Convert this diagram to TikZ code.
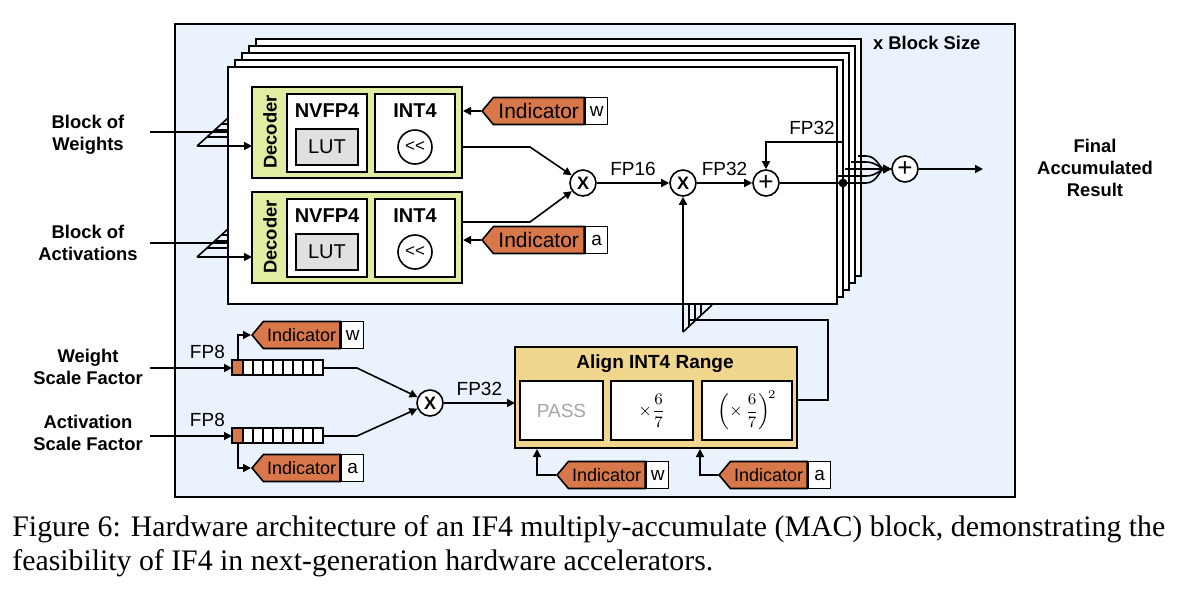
\documentclass[tikz,border=0pt]{standalone}
\usepackage{fontspec}
\setmainfont{Liberation Serif}
\newfontfamily\lsans{Liberation Sans}
\usetikzlibrary{shapes.symbols,arrows.meta}
\definecolor{bgblue}{HTML}{EAF2FD}
\definecolor{decfill}{HTML}{E2ECA2}
\definecolor{alfill}{HTML}{F1D68E}
\definecolor{orng}{HTML}{D8784A}
\definecolor{lutg}{HTML}{E0E0E0}
\begin{document}
\begin{tikzpicture}[x=0.5pt,y=-0.5pt,
  every node/.style={font=\lsans\fontsize{8.5}{10}\selectfont},
  ln/.style={line width=0.8pt},
  arr/.style={ln,-{Triangle[length=4pt,width=4pt]}},
  frame/.style={draw,line width=1pt,fill=white},
  box/.style={draw,line width=1.2pt,fill=white,inner sep=0},
  op/.style={draw,circle,line width=0.8pt,fill=white,minimum size=13pt,inner sep=0,font=\lsans\bfseries\fontsize{9}{10}\selectfont},
  ind/.style={signal,signal to=west,signal pointer angle=100,draw,line width=0.8pt,fill=orng,minimum height=13.5pt,minimum width=44pt,inner sep=1pt,anchor=west,font=\lsans\fontsize{9}{10}\selectfont},
  bigind/.style={ind,minimum width=51pt,font=\lsans\fontsize{10.5}{11}\selectfont},
  letter/.style={draw,line width=0.8pt,fill=white,minimum height=13.5pt,minimum width=11pt,inner sep=0,anchor=west,font=\lsans\fontsize{9.5}{10}\selectfont},
  lbl/.style={font=\lsans\bfseries\fontsize{9.2}{11}\selectfont,align=center}]
\useasboundingbox (0,0) rectangle (1200,596);
% outer
\draw[line width=1pt,fill=bgblue] (175,24) rectangle (1015,497);
% stacked frames
\foreach \i in {4,3,2,1,0}{
  \draw[frame] ({228+7*\i},{67-7*\i}) rectangle ({837+6*\i},{304-7*\i});
}
\node[lbl,anchor=west] (bs) at (866,43) {x Block Size};
% decoders
\foreach \dy/\nm/\lt/\iy/\oy in {0/w/w/111/147,105/a/a/240/222}{
  \draw[line width=1.2pt,fill=decfill] (252,{87+\dy}) rectangle (462,{178+\dy});
  \node[lbl] (dec\nm) at (270,{132+\dy}) {\rotatebox{90}{Decoder}};
  \draw[box] (287,{94+\dy}) rectangle (367,{172+\dy});
  \draw[box] (375,{94+\dy}) rectangle (455,{172+\dy});
  \node[lbl,font=\lsans\bfseries\fontsize{10}{10}\selectfont] (nv\nm) at (327,{111+\dy}) {NVFP4};
  \node[lbl,font=\lsans\bfseries\fontsize{10}{10}\selectfont] (in\nm) at (415,{111+\dy}) {INT4};
  \node[draw,line width=1pt,fill=lutg,minimum width=31pt,minimum height=18pt,font=\lsans\fontsize{10}{10}\selectfont] (lut\nm) at (327,{147+\dy}) {LUT};
  \node[draw,circle,line width=0.8pt,minimum size=17pt,inner sep=0] (sh\nm) at (415,{147+\dy}) {<<};
  \coordinate (out\nm) at (462,\oy);
  \node[bigind] (ind\nm) at (481,\iy) {Indicator};
  \node[letter] (l\nm) at (ind\nm.east) {\lt};
  \draw[arr] (ind\nm.west) -- (463,\iy);
}
% left inputs
\node[lbl] (bw) at (88,135) {Block of\\Weights};
\node[lbl] (ba) at (88,243) {Block of\\Activations};
\foreach \y/\nm in {0/w,111/a}{
  \draw[ln] (150,{132+\y}) -- (228,{132+\y});
  \draw[ln] (197,{146+\y}) -- (228,{118+\y});
  \foreach \yy in {124,130,137}{\draw[ln] ({197+(146-\yy)*31/28},{\yy+\y}) -- (228,{\yy+\y});}
  \draw[arr] (197,{146+\y}) -- (252,{146+\y});
}
% multiply chain
\node[op] (m1) at (583,183) {X};
\draw[arr] (outw) -- (530,147) -- (m1);
\draw[arr] (outa) -- (530,222) -- (m1);
\node[op] (m2) at (683,183) {X};
\draw[arr] (m1) -- node[above,font=\lsans\fontsize{9.5}{10}\selectfont] {FP16} (m2);
\node[op,font=\lsans\fontsize{13}{13}\selectfont] (p1) at (766,183) {+};
\draw[arr] (m2) -- node[above,font=\lsans\fontsize{9.5}{10}\selectfont] {FP32} (p1);
\coordinate (dot) at (843,183);
\fill (dot) circle (2.2pt);
\draw[ln] (p1) -- (dot);
\draw[arr] (dot) -- (843,142) -- (766,142) -- (p1);
\node[font=\lsans\fontsize{9.5}{10}\selectfont] at (812,128) {FP32};
\node[op,font=\lsans\fontsize{13}{13}\selectfont] (pf) at (905,169) {+};
\foreach \y/\x in {156/858,162/851,169/845,176/838}{
  \draw[arr] (\x,\y) -- (866,\y) to[out=0,in=180] (pf.west);
}
\draw[arr] (dot) -- (866,183) to[out=0,in=180] (pf.west);
\coordinate (fend) at (983,169);
\draw[arr] (pf) -- (fend);
\node[lbl] (fr) at (1095,168) {Final\\Accumulated\\Result};
% scale factors
\node[lbl] (wsf) at (88,367) {Weight\\Scale Factor};
\node[lbl] (asf) at (88,433) {Activation\\Scale Factor};
\foreach \y/\nm/\lt/\iy in {368/w/w/335,436/a/a/468}{
  \draw[arr] (150,\y) -- node[above,pos=0.7,yshift=1pt,font=\lsans\fontsize{9.5}{10}\selectfont] {FP8} (232,\y);
  \draw[line width=1pt,fill=orng] (232,{\y-8}) rectangle (243,{\y+7});
  \foreach \k in {0,...,7}{\draw[line width=1pt,fill=white] ({243+10*\k},{\y-8}) rectangle ({253+10*\k},{\y+7});}
  \node[ind] (sind\nm) at (251,\iy) {Indicator};
  \node[letter] (sl\nm) at (sind\nm.east) {\lt};
  \draw[arr] (238,{\y+(\iy-\y)/abs(\iy-\y)*8}) -- (238,\iy) -- (sind\nm.west);
}
\node[op] (m3) at (430,403) {X};
\draw[arr] (323,368) -- (357,368) -- (m3);
\draw[arr] (323,436) -- (357,436) -- (m3);
% align
\draw[line width=1.2pt,fill=alfill] (515,347) rectangle (797,448);
\draw[arr] (m3) -- node[above,font=\lsans\fontsize{9.5}{10}\selectfont] {FP32} (515,403);
\node[lbl,font=\lsans\bfseries\fontsize{9.5}{10}\selectfont] (at) at (655,364) {Align INT4 Range};
\node[box,minimum width=41.5pt,minimum height=29.5pt,text=gray!70,font=\lsans\fontsize{9.5}{10}\selectfont] (pass) at (561.5,410.5) {PASS};
\node[box,minimum width=41pt,minimum height=29.5pt] (f1) at (652,410.5) {$\displaystyle\times\frac{6}{7}$};
\node[box,minimum width=45pt,minimum height=29.5pt] (f2) at (747,410.5) {$\displaystyle\left(\times\,\frac{6}{7}\right)^{\!2}$};
\node[ind] (bindw) at (556,475) {Indicator};
\node[letter] (blw) at (bindw.east) {w};
\draw[arr] (bindw.west) -- (537,475) -- (537,449);
\node[ind] (binda) at (718,475) {Indicator};
\node[letter] (bla) at (binda.east) {a};
\draw[arr] (binda.west) -- (700,475) -- (700,449);
% align output back up
\draw[ln] (797,400) -- (828,400) -- (828,320) -- (690,320);
\draw[ln] (683,332) -- (712,305);
\foreach \x in {689,695,701}{\draw[ln] (\x,305) -- (\x,{332-(\x-683)*27/29});}
\draw[arr] (683,332) -- (m2);
% caption
\node[anchor=north west,align=left,font=\fontsize{14.9}{17}\selectfont,inner sep=0] (cap) at (12,515) {Figure 6: Hardware architecture of an IF4 multiply-accumulate (MAC) block, demonstrating the\\feasibility of IF4 in next-generation hardware accelerators.};
\end{tikzpicture}
\end{document}
